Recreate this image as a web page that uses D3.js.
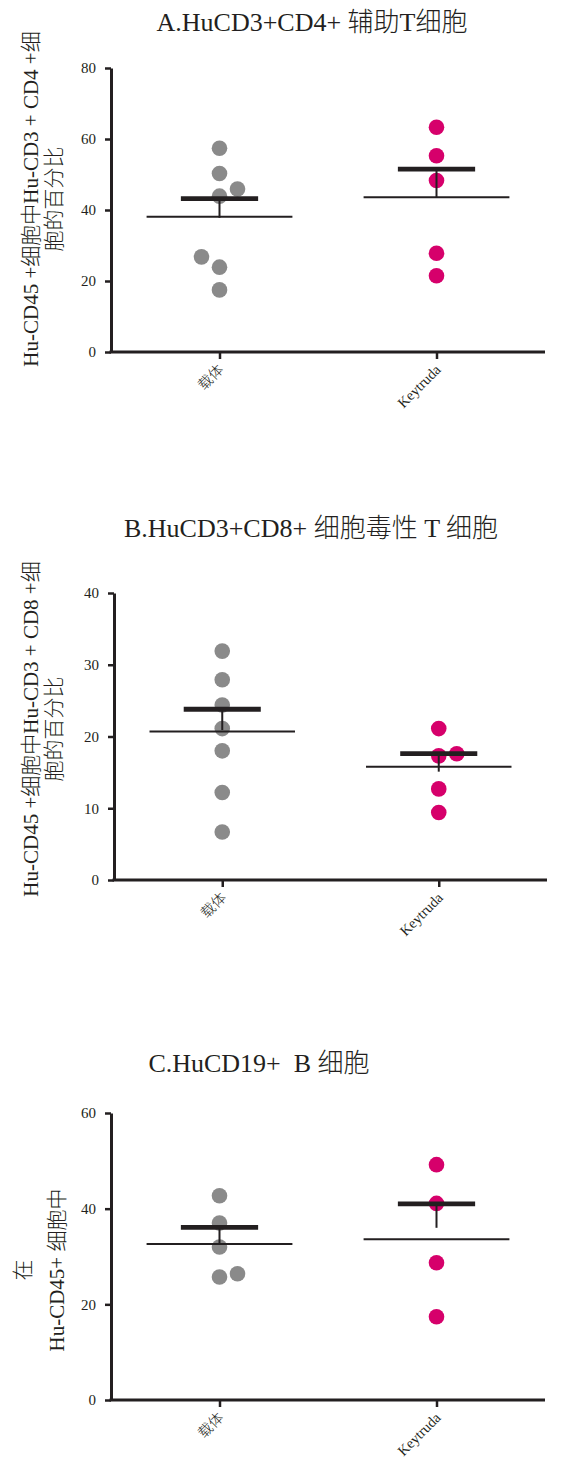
<!DOCTYPE html>
<html>
<head>
<meta charset="utf-8">
<script src="https://cdn.jsdelivr.net/npm/d3@7"></script>
<style>
  html, body { margin: 0; padding: 0; background: #fff; }
  svg { display: block; }
  text { white-space: pre; }
</style>
</head>
<body>
<svg id="chart" width="573" height="1465"></svg>
<script>
// ---------- data ----------
const categories = ["载体", "Keytruda"];

const titleA = "A.HuCD3+CD4+ 辅助T细胞";
const titleB = "B.HuCD3+CD8+ 细胞毒性 T 细胞";
const titleC = "C.HuCD19+  B 细胞";

const yLabelA = ["Hu-CD45 +细胞中Hu-CD3 + CD4 +细", "胞的百分比"];
const yLabelB = ["Hu-CD45 +细胞中Hu-CD3 + CD8 +细", "胞的百分比"];
const yLabelC = ["在", "Hu-CD45+ 细胞中"];

const yTicksA = [0, 20, 40, 60, 80];
const yTicksB = [0, 10, 20, 30, 40];
const yTicksC = [0, 20, 40, 60];

// individual values (vehicle / Keytruda) and beeswarm slot (-1, 0, +1)
const vehicleA = [57.4, 50.3, 43.9, 45.9, 26.8, 23.9, 17.5];
const vehicleSlotA = [0, 0, 0, 1, -1, 0, 0];
const keytrudaA = [63.3, 55.3, 48.3, 27.8, 21.5];
const keytrudaSlotA = [0, 0, 0, 0, 0];
const meanA = [38.1, 43.6];       // thin wide line
const upperA = [43.2, 51.5];      // thick bar
const whiskerA = [37.8, 43.6];    // bottom of vertical line

const vehicleB = [31.9, 27.9, 24.4, 21.1, 18.0, 12.2, 6.7];
const vehicleSlotB = [0, 0, 0, 0, 0, 0, 0];
const keytrudaB = [21.1, 17.3, 17.6, 12.7, 9.4];
const keytrudaSlotB = [0, 0, 1, 0, 0];
const meanB = [20.7, 15.8];
const upperB = [23.8, 17.6];
const whiskerB = [20.9, 15.1];

const vehicleC = [42.7, 37.0, 32.0, 25.7, 26.4];
const vehicleSlotC = [0, 0, 0, 0, 1];
const keytrudaC = [49.2, 41.1, 28.7, 17.4];
const keytrudaSlotC = [0, 0, 0, 0];
const meanC = [32.6, 33.6];
const upperC = [36.1, 41.0];
const whiskerC = [32.7, 36.0];

// ---------- drawing ----------
const INK = "#231f20";
const GREY = "#8a8a8a";
const MAGENTA = "#d6006b";
const SERIF = "'Liberation Serif', 'Noto Sans CJK SC', serif";

const svg = d3.select("#chart");

function panel(p) {
  const g = svg.append("g");
  const x = d3.scalePoint().domain(categories).range([p.left, p.right]).padding(0.5);
  const y = d3.scaleLinear().domain([0, d3.max(p.yTicks)]).range([p.bottom, p.top]);
  const step = x.step();

  // title
  g.append("text")
    .attr("x", p.titleX).attr("y", p.titleY)
    .attr("text-anchor", "middle")
    .attr("font-family", SERIF).attr("font-size", 26)
    .attr("font-weight", 300)
    .attr("fill", INK)
    .text(p.title);

  // y label (rotated, two lines)
  p.yLabel.forEach((line, i) => {
    g.append("text")
      .attr("transform", `translate(${p.yLabelX[i]},${p.yLabelY}) rotate(-90)`)
      .attr("text-anchor", "middle")
      .attr("dy", "0.35em")
      .attr("font-family", SERIF).attr("font-size", 21)
      .attr("font-weight", 300)
      .attr("fill", INK)
      .text(line);
  });

  // y axis
  const ya = g.append("g")
    .attr("transform", `translate(${p.left},0)`)
    .call(d3.axisLeft(y).tickValues(p.yTicks).tickSize(6).tickSizeOuter(0).tickPadding(9));
  ya.select(".domain").attr("stroke", INK).attr("stroke-width", 3);
  ya.selectAll(".tick line").attr("stroke", INK).attr("stroke-width", 2.5);
  ya.selectAll(".tick text").attr("font-family", SERIF).attr("font-size", 15).attr("fill", INK);

  // x axis
  const xa = g.append("g")
    .attr("transform", `translate(0,${p.bottom})`)
    .call(d3.axisBottom(x).tickSize(7).tickSizeOuter(0));
  xa.select(".domain").attr("stroke", INK).attr("stroke-width", 3)
    .attr("d", `M${p.left - 1.5},0H${p.right}`);
  xa.selectAll(".tick line").attr("stroke", INK).attr("stroke-width", 2.5);
  xa.selectAll(".tick text")
    .attr("font-family", SERIF).attr("font-size", 14.5).attr("fill", INK)
    .attr("font-weight", 300)
    .attr("text-anchor", "end")
    .attr("y", 0).attr("dy", "0.35em")
    .attr("transform", "translate(1,15) rotate(-45)");

  // dots
  const groups = [
    { cat: categories[0], vals: p.vehicle, slots: p.vehicleSlot, color: GREY },
    { cat: categories[1], vals: p.keytruda, slots: p.keytrudaSlot, color: MAGENTA }
  ];
  groups.forEach(gr => {
    g.append("g").selectAll("circle")
      .data(gr.vals.map((v, i) => ({ v, s: gr.slots[i] })))
      .join("circle")
      .attr("cx", d => x(gr.cat) + d.s * 18)
      .attr("cy", d => y(d.v))
      .attr("r", 7.8)
      .attr("fill", gr.color);
  });

  // summary lines
  categories.forEach((c, i) => {
    const cx = x(c);
    g.append("line")
      .attr("x1", cx - step * 0.336).attr("x2", cx + step * 0.336)
      .attr("y1", y(p.mean[i])).attr("y2", y(p.mean[i]))
      .attr("stroke", INK).attr("stroke-width", 2);
    g.append("line")
      .attr("x1", cx).attr("x2", cx)
      .attr("y1", y(p.upper[i])).attr("y2", y(p.whisker[i]))
      .attr("stroke", INK).attr("stroke-width", 2);
    g.append("line")
      .attr("x1", cx - step * 0.178).attr("x2", cx + step * 0.178)
      .attr("y1", y(p.upper[i])).attr("y2", y(p.upper[i]))
      .attr("stroke", INK).attr("stroke-width", 4.8);
  });
}

panel({
  title: titleA, titleX: 312, titleY: 31,
  yLabel: yLabelA, yLabelX: [31, 54], yLabelY: 199,
  yTicks: yTicksA, left: 111, right: 545, top: 68, bottom: 352,
  vehicle: vehicleA, vehicleSlot: vehicleSlotA,
  keytruda: keytrudaA, keytrudaSlot: keytrudaSlotA,
  mean: meanA, upper: upperA, whisker: whiskerA
});

panel({
  title: titleB, titleX: 311, titleY: 537,
  yLabel: yLabelB, yLabelX: [31, 54], yLabelY: 729,
  yTicks: yTicksB, left: 114, right: 547, top: 593, bottom: 880,
  vehicle: vehicleB, vehicleSlot: vehicleSlotB,
  keytruda: keytrudaB, keytrudaSlot: keytrudaSlotB,
  mean: meanB, upper: upperB, whisker: whiskerB
});

panel({
  title: titleC, titleX: 259, titleY: 1072,
  yLabel: yLabelC, yLabelX: [23, 57], yLabelY: 1270,
  yTicks: yTicksC, left: 111, right: 545, top: 1113, bottom: 1400,
  vehicle: vehicleC, vehicleSlot: vehicleSlotC,
  keytruda: keytrudaC, keytrudaSlot: keytrudaSlotC,
  mean: meanC, upper: upperC, whisker: whiskerC
});
</script>
</body>
</html>
